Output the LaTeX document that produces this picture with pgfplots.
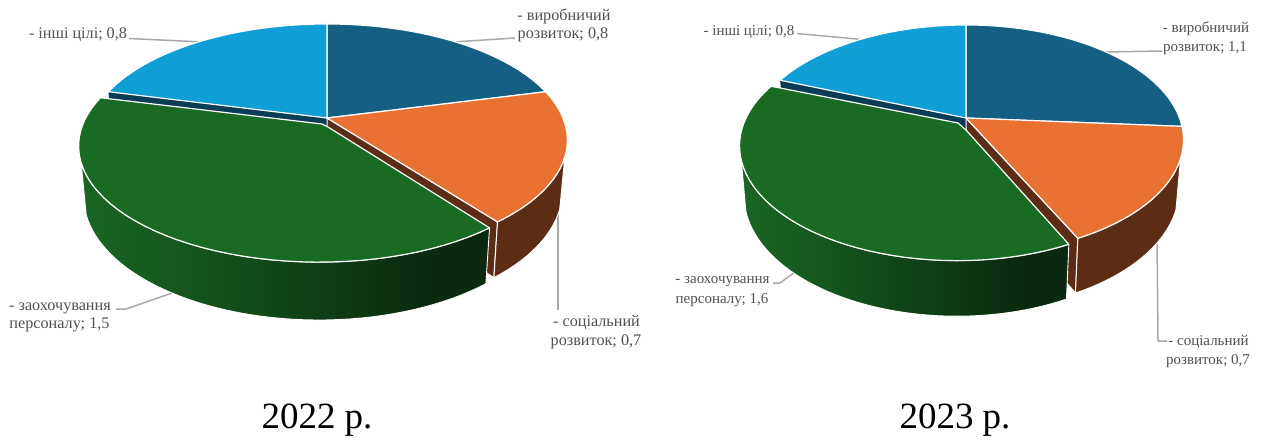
\documentclass[border=0pt]{standalone}
\usepackage{pgfplots}
\pgfplotsset{compat=1.18}
\usepackage{fontspec}
\setmainfont{Liberation Serif}

\definecolor{cBlue}{HTML}{156082}
\definecolor{cOrange}{HTML}{E97132}
\definecolor{cGreen}{HTML}{196B24}
\definecolor{cSky}{HTML}{0F9ED5}
\definecolor{wallBrown}{HTML}{5C2C15}
\definecolor{wallBlue}{HTML}{0A3C55}
\definecolor{wallG1}{HTML}{1A6624}
\definecolor{wallG2}{HTML}{124C19}
\definecolor{wallG3}{HTML}{0A290E}
\definecolor{leader}{HTML}{A8A8A8}
\definecolor{labelText}{HTML}{505050}

\pgfdeclarehorizontalshading{greenwall}{100bp}{
  color(0bp)=(wallG1); color(25bp)=(wallG1); color(45bp)=(wallG2);
  color(68bp)=(wallG3); color(100bp)=(wallG3)}

% Disc in perspective: slice angle (clockwise from the top) to page position.
\newcommand\appendpt[1]{%
  \pgfmathsetmacro\pX{sin(#1)}%
  \pgfmathsetmacro\pY{cos(#1)}%
  \pgfmathsetmacro\pD{1+0.19*\pY}%
  \pgfmathsetmacro\pU{\dCX+\SX+\dA*\pX/\pD}%
  \pgfmathsetmacro\pV{\dCY+\SY-\dB*\pY/\pD}%
  \xdef\pts{\pts (\pU,\pV)}%
}
\newcommand\appendarc[2]{%
  \pgfmathsetmacro\arcStep{(#2-#1)/48}%
  \foreach \k in {0,...,48}{%
    \pgfmathsetmacro\arcAng{#1+\k*\arcStep}%
    \appendpt{\arcAng}%
  }%
}
\newcommand\topdisc{\let\dCX\CX\let\dCY\topY\let\dA\topA\let\dB\topB}
\newcommand\botdisc{\let\dCX\CX\let\dCY\botY\let\dA\botA\let\dB\botB}
\newcommand\noshift{\def\SX{0}\def\SY{0}}
\newcommand\greenshift{\let\SX\expX\let\SY\expY}
\newcommand\emitpath[1]{%
  \def\emitcmd{\addplot[#1] coordinates}%
  \expandafter\emitcmd\expandafter{\pts};%
}
\newcommand\wall[3]{% from angle, to angle, plot options
  \gdef\pts{}\topdisc\appendarc{#1}{#2}%
  \botdisc\appendarc{#2}{#1}%
  \topdisc\appendpt{#1}%
  \emitpath{#3}%
}
\newcommand\face[3]{%
  \gdef\pts{}\topdisc\xdef\pts{(\CX,\topY)}%
  \appendarc{#1}{#2}%
  \xdef\pts{\pts (\CX,\topY)}%
  \emitpath{#3}%
}
\newcommand\innerwall[2]{%
  \gdef\pts{}\xdef\pts{(\CX,\topY)}%
  \topdisc\appendpt{#1}%
  \botdisc\appendpt{#1}%
  \xdef\pts{\pts (\CX,\botY) (\CX,\topY)}%
  \emitpath{#2}%
}
\newcommand\drawpie{%
  \pgfmathsetmacro\tot{\vA+\vB+\vC+\vD}%
  \pgfmathsetmacro\angA{\vA/\tot*360}%
  \pgfmathsetmacro\angB{\angA+\vB/\tot*360}%
  \pgfmathsetmacro\angC{\angB+\vC/\tot*360}%
  \noshift
  \innerwall{\angC}{fill=wallBlue,draw=none}%
  \innerwall{\angB}{fill=wallBrown,draw=white,line width=1pt}%
  \wall{\silR}{\angB}{fill=wallBrown,draw=white,line width=1pt,line join=round}%
  \greenshift
  \wall{\angB}{\silL}{shade,shading=greenwall,draw=white,line width=0.9pt,line join=round}%
  \noshift
  \face{0}{\angA}{fill=cBlue,draw=white,line width=1.2pt,line join=round}%
  \face{\angA}{\angB}{fill=cOrange,draw=white,line width=1.2pt,line join=round}%
  \face{\angC}{360}{fill=cSky,draw=white,line width=1.2pt,line join=round}%
  \greenshift
  \topdisc
  \xdef\pts{\chamB}%
  \appendarc{\angB}{\angC}%
  \xdef\pts{\pts \chamA\space\chamB}%
  \emitpath{fill=cGreen,draw=white,line width=1.2pt,line join=round}%
}

\newcommand\lbl[4]{\node[anchor=base,inner sep=0pt,text=labelText,font=\fontsize{#1}{#1}\selectfont] at (axis cs:#2,#3) {#4};}
\newcommand\gapw{\hspace{0.24em}}

\begin{document}
\begin{tikzpicture}
\path[use as bounding box] (0,0) rectangle (1265pt,439pt);
\begin{axis}[
  at={(0,0)},anchor=south west,
  scale only axis,width=1265pt,height=439pt,
  xmin=0,xmax=1265,ymin=0,ymax=439,y dir=reverse,
  hide axis,clip=false]

% leader lines, 2022
\addplot[leader,line width=1.5pt] coordinates {(129,38.5) (203,42)};
\addplot[leader,line width=1.5pt] coordinates {(515,38) (453,42)};
\addplot[leader,line width=1.5pt] coordinates {(558,310) (558,210)};
\addplot[leader,line width=1.5pt] coordinates {(116,309) (126,309) (175,292)};
% leader lines, 2023
\addplot[leader,line width=1.5pt] coordinates {(797,33.5) (862,39.5)};
\addplot[leader,line width=1.5pt] coordinates {(1162,51) (1105,52)};
\addplot[leader,line width=1.5pt] coordinates {(1167,341) (1158,341) (1157,240)};
\addplot[leader,line width=1.5pt] coordinates {(773,283) (780,283) (795,272)};

% 2022: production, social, staff incentives, other
\def\vA{0.8}\def\vB{0.7}\def\vC{1.5}\def\vD{0.8}
\def\CX{327}\def\topY{118}\def\topA{236}\def\topB{111.9}
\def\botY{167.6}\def\botA{231}\def\botB{118.6}
\def\expX{-8}\def\expY{6}
\def\silR{109}\def\silL{251}
\def\chamA{(322,124)}\def\chamB{(328,127)}
\drawpie

% 2023: production, social, staff incentives, other
\def\vA{1.1}\def\vB{0.7}\def\vC{1.6}\def\vD{0.8}
\def\CX{966}\def\topY{118}\def\topA{213.5}\def\topB{110.7}
\def\botY{167}\def\botA{209}\def\botB{116}
\def\expX{-9}\def\expY{6}
\def\silR{110}\def\silL{252}
\def\chamA{(958,123)}\def\chamB{(966,130)}
\drawpie

% labels, 2022
\lbl{16.2}{78}{38}{- інші\gapw цілі;\gapw 0,8}
\lbl{16.2}{564}{20}{- виробничий}
\lbl{16.2}{563}{38.5}{розвиток; 0,8}
\lbl{16.2}{596.5}{326.5}{- соціальний}
\lbl{16.2}{596}{345}{розвиток; 0,7}
\lbl{16.2}{60}{310}{- заохочування}
\lbl{16.2}{59.5}{328.5}{персоналу; 1,5}
% labels, 2023
\lbl{15}{749}{35}{- інші\gapw цілі;\gapw 0,8}
\lbl{15}{1206}{32}{- виробничий}
\lbl{15}{1205}{51}{розвиток; 1,1}
\lbl{15}{1208.5}{345}{- соціальний}
\lbl{15}{1208}{364}{розвиток; 0,7}
\lbl{15}{722.5}{283}{- заохочування}
\lbl{15}{722}{303}{персоналу; 1,6}
% year captions
\node[anchor=base,inner sep=0pt,font=\fontsize{37}{37}\selectfont] at (axis cs:317,428) {2022 р.};
\node[anchor=base,inner sep=0pt,font=\fontsize{37}{37}\selectfont] at (axis cs:955,428) {2023 р.};
\end{axis}
\end{tikzpicture}
\end{document}
